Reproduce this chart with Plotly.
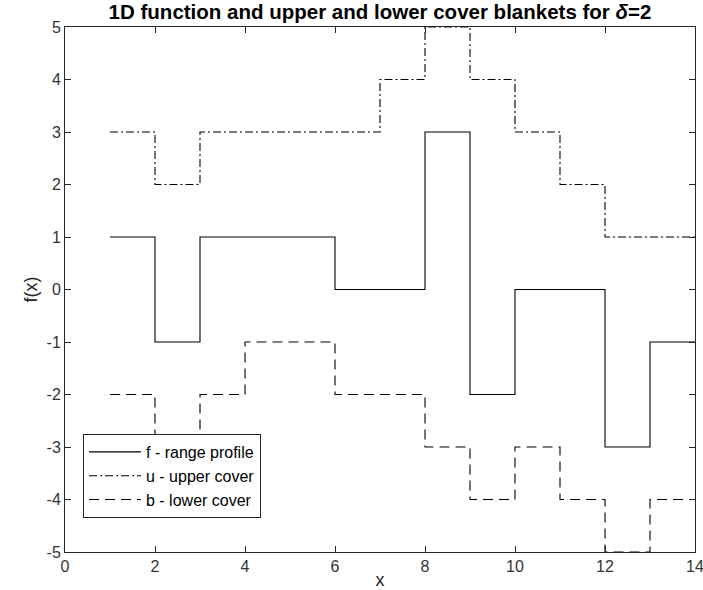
import plotly.graph_objects as go

# Sample positions and step values of the profile and its cover blankets
x = list(range(1, 15))
f_vals = [1, -1, 1, 1, 1, 0, 0, 3, -2, 0, 0, -3, -1, -1]
u_vals = [3, 2, 3, 3, 3, 3, 4, 5, 4, 3, 2, 1, 1, 1]
b_vals = [-2, -3, -2, -1, -1, -2, -2, -3, -4, -3, -4, -5, -4, -4]

x_ticks = list(range(0, 15, 2))
y_ticks = list(range(-5, 6))
y_tick_text = [str(v) for v in y_ticks]  # plain hyphen minus signs

series = [
    ("f - range profile", f_vals, "solid"),
    ("u - upper cover", u_vals, "8px,3px,2px,3px"),
    ("b - lower cover", b_vals, "10px,6px"),
]

FONT = "Liberation Sans, Arial, sans-serif"

fig = go.Figure()
for name, vals, dash in series:
    fig.add_trace(go.Scatter(
        x=x, y=vals, mode="lines", name=name,
        line=dict(shape="hv", color="black", width=1.1, dash=dash),
    ))

axis_common = dict(
    showgrid=False, zeroline=False, automargin=False,
    showline=True, linecolor="#262626", linewidth=1,
    mirror="ticks", ticks="inside", ticklen=6, tickcolor="#262626",
    tickfont=dict(family=FONT, size=16, color="#333333"),
    ticklabeloverflow="allow",
)

fig.update_layout(
    width=703, height=590,
    margin=dict(l=65, r=8, t=27, b=38),
    plot_bgcolor="white", paper_bgcolor="white",
    font=dict(family=FONT, color="#262626"),
    title=dict(
        text="<b>1D function and upper and lower cover blankets for <i>δ</i>=2</b>",
        x=0.5 * (65 + 695) / 703, xanchor="center",
        y=1 - 12 / 590, yanchor="middle",
        font=dict(size=20.5, color="black"),
    ),
    xaxis=dict(range=[0, 14], tickvals=x_ticks,
               title=dict(text="x", font=dict(size=18, color="#262626"), standoff=2),
               **axis_common),
    yaxis=dict(range=[-5, 5], tickvals=y_ticks, ticktext=y_tick_text,
               title=dict(text="f(x)", font=dict(size=18, color="#262626"), standoff=4),
               **axis_common),
    legend=dict(
        x=(83 - 65) / 630, y=(552 - 434) / 525, xanchor="left", yanchor="top",
        bgcolor="white", bordercolor="#262626", borderwidth=1,
        font=dict(family=FONT, size=16, color="black"),
        tracegroupgap=0, itemwidth=52,
    ),
    showlegend=True,
)

fig.write_html("out.html")
